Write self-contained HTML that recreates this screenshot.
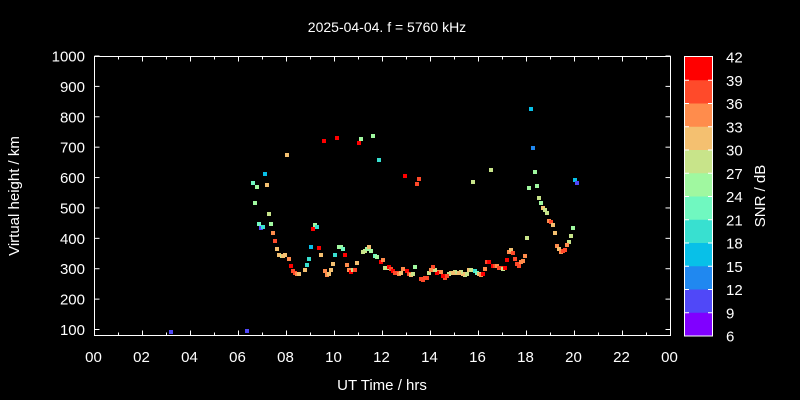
<!DOCTYPE html>
<html><head><meta charset="utf-8"><style>
body{margin:0;background:#000;width:800px;height:400px;overflow:hidden}
svg{display:block;font-family:"Liberation Sans",sans-serif}
</style></head><body>
<svg id="s" width="800" height="400" xmlns="http://www.w3.org/2000/svg">
<rect width="800" height="400" fill="#000"/>
<text x="387" y="32" fill="#fff" font-size="14" text-anchor="middle">2025-04-04. f = 5760 kHz</text>
<text x="382" y="390" fill="#fff" font-size="15" text-anchor="middle">UT Time / hrs</text>
<text transform="translate(19,196) rotate(-90)" fill="#fff" font-size="15" text-anchor="middle">Virtual height / km</text>
<g id="pts"></g>
<g id="ax" stroke="#fff" stroke-width="1" fill="none"></g>
<g id="lbl" fill="#fff" font-size="15"></g>
<text transform="translate(765,196) rotate(-90)" fill="#fff" font-size="15" text-anchor="middle">SNR / dB</text>
</svg>
<script>
var NS="http://www.w3.org/2000/svg";
function el(p,t,a,txt){var e=document.createElementNS(NS,t);for(var k in a)e.setAttribute(k,a[k]);if(txt!=null)e.textContent=txt;document.getElementById(p).appendChild(e);return e;}
var C={42:"#ff0000",39:"#ff4a2a",36:"#ff8c4c",33:"#f4c070",30:"#c8e48a",27:"#c8e48a",24:"#a0f8a0",21:"#70f8c0",18:"#38e0d0",15:"#08c0e8",12:"#2088f0",9:"#5048f8"};
// axes
var L=94.5,R=670.5,T=56.5,B=335.5;
el("ax","rect",{x:L,y:T,width:R-L,height:B-T});
for(var h=0;h<=24;h++){var x=94.5+h*24;var len=h%2==0?5:3;
el("ax","line",{x1:x,y1:B,x2:x,y2:B-len});el("ax","line",{x1:x,y1:T,x2:x,y2:T+len});
if(h%2==0)el("lbl","text",{x:x-1,y:362,"text-anchor":"middle"},(h%24<10?"0":"")+(h%24));}
for(var v=100;v<=1000;v+=100){var y=56+(1000-v)*0.3039;
el("ax","line",{x1:L,y1:y,x2:L+5,y2:y});el("ax","line",{x1:R,y1:y,x2:R-5,y2:y});
el("lbl","text",{x:85,y:y+5.5,"text-anchor":"end"},v);}
// colorbar
var cols=["#ff0000","#ff4a2a","#ff8c4c","#f4c070","#c8e48a","#a0f8a0","#70f8c0","#38e0d0","#08c0e8","#2088f0","#5048f8","#8000ff"];
var ch=(336-57)/12;
for(var i=0;i<12;i++)el("pts","rect",{x:685,y:57+i*ch,width:27,height:ch+0.5,fill:cols[i]});
el("ax","rect",{x:684.5,y:56.5,width:28,height:279.5});
for(var i=0;i<=12;i++){var y=57+i*ch;if(i>0&&i<12){el("ax","line",{x1:685,y1:y,x2:689,y2:y});el("ax","line",{x1:712,y1:y,x2:708,y2:y});}
el("lbl","text",{x:726,y:y+5.5},42-3*i);}
var P=[[171,332,9],[247,331,9],[265,174,15],[253,183,21],[257,187,24],[267,185,33],[255,203,24],[269,214,27],[259,224,21],[261,228,9],[263,227,18],[271,224,24],[273,233,36],[275,241,39],[277,249,33],[279,255,33],[282,256,30],[283,256,33],[285,255,33],[289,259,36],[291,266,42],[293,271,39],[295,273,39],[297,274,36],[299,274,33],[305,270,33],[307,265,18],[309,259,18],[311,247,15],[315,225,24],[317,227,18],[313,229,42],[319,248,42],[321,255,33],[325,271,36],[327,275,36],[329,274,33],[331,270,33],[333,264,33],[335,255,18],[339,247,24],[341,247,24],[343,249,21],[345,255,42],[347,265,36],[349,270,36],[351,272,42],[353,270,27],[355,270,39],[357,263,33],[363,252,30],[365,251,27],[367,249,24],[369,247,33],[371,251,24],[375,256,21],[377,257,24],[381,262,42],[383,260,36],[385,268,27],[387,268,30],[389,267,42],[391,269,39],[393,271,42],[395,273,39],[397,273,39],[399,274,36],[401,273,33],[403,269,36],[407,271,42],[409,274,39],[411,275,33],[413,274,27],[415,267,24],[421,279,39],[423,280,39],[425,278,39],[427,278,39],[429,273,27],[405,176,42],[419,179,39],[417,184,39],[379,160,18],[324,141,42],[337,138,42],[359,143,42],[361,139,24],[373,136,24],[287,155,33],
[491,170,30],[473,182,30],[535,172,24],[529,188,24],[537,186,24],[539,198,27],[541,203,24],[543,208,33],[545,210,30],[547,213,30],[549,221,36],[551,222,39],[553,225,33],[555,233,33],[573,228,24],[571,236,27],[569,242,30],[567,245,36],[557,246,36],[559,249,33],[561,252,36],[563,251,39],[565,250,39],[575,180,15],[577,183,9],[527,238,30],[509,252,36],[511,250,33],[513,253,39],[525,256,36],[523,261,36],[521,262,36],[519,266,39],[517,264,39],[515,259,39],[507,260,42],[487,262,39],[489,262,42],[485,269,36],[493,266,42],[495,266,39],[497,266,36],[499,268,39],[501,268,39],[503,269,30],[505,268,42],[469,270,33],[471,270,30],[475,271,18],[477,273,21],[479,274,33],[481,275,36],[483,274,42],[467,274,30],[465,275,27],[463,274,33],[461,272,30],[459,273,33],[457,273,33],[455,272,30],[453,273,33],[451,273,33],[449,274,30],[447,276,39],[445,278,39],[443,276,42],[441,272,36],[439,272,36],[437,273,42],[435,270,27],[433,267,39],[431,270,36],[531,109,15],[533,148,12]];
P.forEach(function(p){el("pts","rect",{x:p[0]-2,y:p[1]-2,width:4,height:4,fill:C[p[2]]});});
</script>
</body></html>
